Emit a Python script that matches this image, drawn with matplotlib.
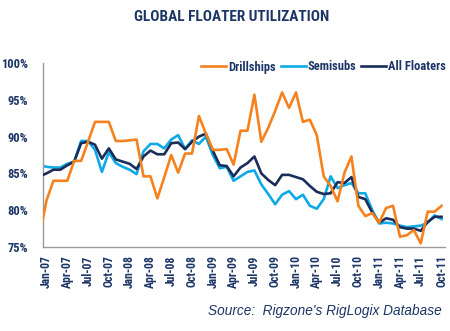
import matplotlib.pyplot as plt
import numpy as np
import pandas as pd

# 月次データ (Dec-06 は左端で切れる点)
months = pd.date_range("2006-12-01", "2011-10-01", freq="MS")
month_labels = [m.strftime("%b-%y") for m in months]

drillships = [76.5, 81.3, 84.0, 84.0, 84.0, 86.7, 86.7, 89.3, 92.0, 92.0, 92.0, 89.4,
              89.4, 89.5, 89.6, 84.6, 84.6, 81.6, 84.5, 87.5, 85.1, 87.7, 87.7, 92.8,
              90.4, 88.2, 88.2, 88.3, 86.2, 90.8, 90.8, 95.7, 89.3, 91.2, 93.5, 96.0,
              93.9, 96.0, 92.0, 92.3, 90.2, 84.6, 83.3, 81.2, 85.1, 87.3, 80.6, 79.2,
              79.6, 78.3, 80.3, 80.6, 76.4, 76.6, 77.3, 75.5, 79.8, 79.8, 80.6]
semisubs = [86.1, 85.9, 85.8, 85.8, 86.3, 86.6, 89.4, 89.4, 88.2, 85.2, 87.9, 86.4,
            85.9, 85.5, 84.9, 88.0, 89.0, 89.0, 88.4, 89.6, 90.2, 88.3, 89.5, 89.0,
            90.0, 87.5, 85.7, 85.9, 84.0, 84.6, 85.2, 85.4, 83.5, 82.2, 80.8, 82.1,
            82.6, 81.5, 82.1, 80.6, 80.2, 81.5, 84.6, 83.0, 83.4, 83.7, 82.3, 82.3,
            80.0, 78.2, 78.3, 78.2, 77.9, 77.7, 77.8, 77.9, 78.3, 79.3, 78.8]
all_floaters = [84.6, 85.0, 85.5, 85.5, 86.1, 86.6, 89.1, 89.3, 88.9, 87.0, 88.4, 86.9,
                86.6, 86.3, 85.6, 87.3, 88.1, 87.6, 87.6, 89.1, 89.2, 88.3, 89.3, 90.0,
                90.4, 88.1, 86.1, 86.0, 84.6, 85.8, 86.4, 87.3, 85.0, 84.1, 83.4, 84.8,
                84.8, 84.5, 84.2, 83.3, 82.5, 82.2, 82.3, 83.8, 83.7, 84.5, 81.8, 81.5,
                79.7, 78.3, 78.9, 78.7, 77.7, 77.5, 77.5, 77.2, 78.4, 79.1, 79.1]

navy = "#1c3566"
orange = "#f5821f"
cyan = "#0fa9e6"
dark = "#1b2d5a"
cond = ["Roboto Condensed", "DejaVu Sans"]

x = np.arange(len(months)) - 1

fig = plt.figure(figsize=(4.5, 3.31), dpi=100)
ax = fig.add_axes([43 / 450, 84 / 331, 402 / 450, 184 / 331])

ax.plot(x, semisubs, color=cyan, lw=1.9, label="Semisubs", zorder=2)
ax.plot(x, all_floaters, color=dark, lw=1.9, label="All Floaters", zorder=3)
ax.plot(x, drillships, color=orange, lw=1.9, label="Drillships", zorder=4)

ax.set_xlim(-0.5, 57.5)
ax.set_ylim(75, 100)
ax.set_yticks(np.arange(75, 101, 5))
ax.set_yticklabels([f"{v}%" for v in range(75, 101, 5)],
                   family=cond, fontweight="bold", fontsize=9, color=navy)
tick_idx = np.arange(1, len(months), 3)
ax.set_xticks(x[tick_idx])
ax.set_xticklabels([month_labels[i] for i in tick_idx], rotation=90,
                   family=cond, fontweight="bold", fontsize=8.5, color=navy)
ax.tick_params(axis="y", length=0, pad=11)
ax.tick_params(axis="x", length=0, pad=6)

for s in ["top", "right"]:
    ax.spines[s].set_visible(False)
for s in ["left", "bottom"]:
    ax.spines[s].set_color("#9a9a9a")
    ax.spines[s].set_linewidth(1.0)

handles, labels = ax.get_legend_handles_labels()
order = [2, 0, 1]
leg = ax.legend([handles[i] for i in order], [labels[i] for i in order],
                loc="center right", bbox_to_anchor=(446 / 450, 264 / 331),
                bbox_transform=fig.transFigure, ncol=3, frameon=False,
                handlelength=2.0, handletextpad=0.15, columnspacing=0.4,
                borderpad=0, borderaxespad=0,
                prop={"family": cond, "weight": "bold", "size": 9})
for t in leg.get_texts():
    t.set_color(navy)

fig.text(232 / 450, 1 - 17 / 331, "GLOBAL FLOATER UTILIZATION", ha="center", va="center",
         family=cond, fontweight="bold", fontsize=11, color=navy)
fig.text(442 / 450, 1 - 311 / 331, "Source:  Rigzone's RigLogix Database", ha="right",
         va="center", family=["Liberation Sans", "DejaVu Sans"], style="italic",
         fontsize=9.8, color=navy)

fig.savefig("out.png", dpi=100)
